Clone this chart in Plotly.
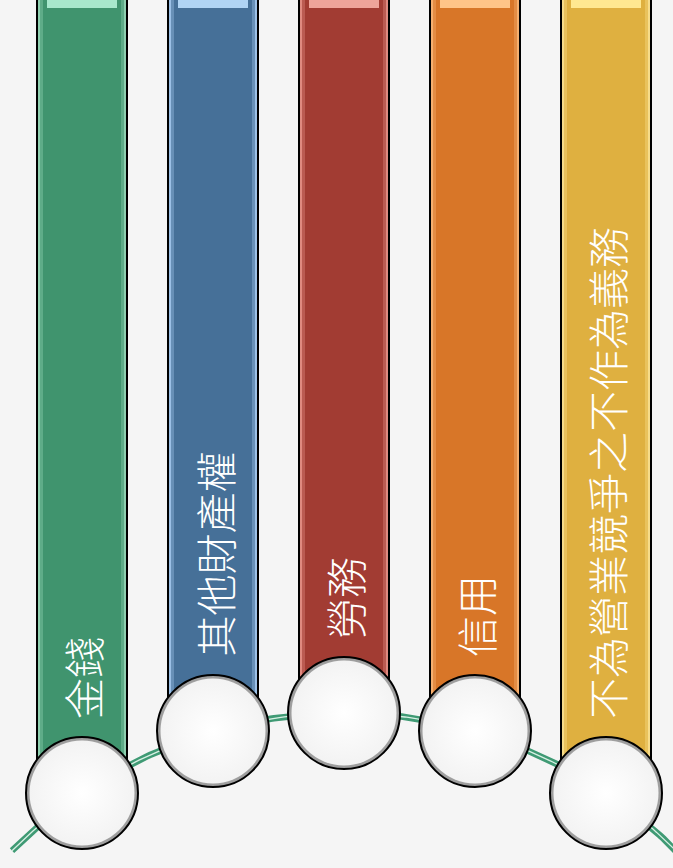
import numpy as np
import plotly.graph_objects as go

# ---- data ----
categories = ["金錢", "其他財產權", "勞務", "信用", "不為營業競爭之不作為義務"]
levels = [75, 137, 155, 137, 75]          # height of each step (circle centre)
bar_colors = ["#40946e", "#467098", "#a23c33", "#d87628", "#dfb040"]
tint_colors = ["#8fd0b0", "#9cc0e6", "#e08a80", "#f5b070", "#f7dc8a"]
top_colors = ["#a8e8cc", "#b0d4f4", "#eea49a", "#ffc488", "#ffe890"]

W, H = 673, 868
PITCH = 131.0
X0 = 82.0 / PITCH
BAR_TOP = 880
xs = list(range(len(categories)))

fig = go.Figure()

# bars: outer glow layer with outline, then main colour
fig.add_trace(go.Bar(x=xs, y=[BAR_TOP - l for l in levels], base=levels, width=0.68,
                     marker=dict(color=tint_colors, line=dict(color="black", width=2)),
                     hoverinfo="skip", showlegend=False))
fig.add_trace(go.Bar(x=xs, y=[BAR_TOP - l for l in levels], base=levels, width=0.64,
                     marker=dict(color=bar_colors, opacity=0.6, line=dict(width=0)),
                     hoverinfo="skip", showlegend=False))
fig.add_trace(go.Bar(x=xs, y=[BAR_TOP - l for l in levels], base=levels, width=0.60,
                     marker=dict(color=bar_colors, line=dict(width=0)),
                     hoverinfo="skip", showlegend=False))
# top highlight
fig.add_trace(go.Bar(x=xs, y=[12] * len(xs), base=[H - 8] * len(xs), width=0.54,
                     marker=dict(color=top_colors, line=dict(width=0)),
                     hoverinfo="skip", showlegend=False))

# arc through the step centres (circle fitted to first, middle, last points)
px = np.array(xs, dtype=float) * PITCH
py = np.array(levels, dtype=float)
(x1, y1), (x2, y2), (x3, y3) = (px[0], py[0]), (px[2], py[2]), (px[4], py[4])
A = np.array([[2 * (x2 - x1), 2 * (y2 - y1)], [2 * (x3 - x1), 2 * (y3 - y1)]])
b = np.array([x2**2 - x1**2 + y2**2 - y1**2, x3**2 - x1**2 + y3**2 - y1**2])
cx, cy = np.linalg.solve(A, b)
R = np.hypot(x1 - cx, y1 - cy)
ax_px = np.linspace(-X0 * PITCH + 12, (len(xs) - 1) * PITCH + 92, 200)
ay = cy + np.sqrt(np.maximum(R**2 - (ax_px - cx) ** 2, 0))
fig.add_trace(go.Scatter(x=ax_px / PITCH, y=ay, mode="lines",
                         line=dict(color="#3f9a74", width=6.5), hoverinfo="skip", showlegend=False))
fig.add_trace(go.Scatter(x=ax_px / PITCH, y=ay, mode="lines",
                         line=dict(color="#d8f0e4", width=1.3), hoverinfo="skip", showlegend=False))

# circles
fig.add_trace(go.Scatter(x=xs, y=levels, mode="markers",
                         marker=dict(size=112, color="#9a9a9a",
                                     gradient=dict(type="radial", color="white"),
                                     line=dict(color="black", width=2)),
                         hoverinfo="skip", showlegend=False))
fig.add_trace(go.Scatter(x=xs, y=levels, mode="markers",
                         marker=dict(size=105, color="#f3f3f3",
                                     gradient=dict(type="radial", color="white"),
                                     line=dict(width=0)),
                         hoverinfo="skip", showlegend=False))

# labels
for i, (c, l) in enumerate(zip(categories, levels)):
    fig.add_annotation(x=i, y=l + 72, text=c, textangle=-90, showarrow=False,
                       xanchor="center", yanchor="bottom",
                       font=dict(family="Noto Sans CJK TC", size=41, color="white", weight=300))

fig.update_layout(
    width=W, height=H, margin=dict(l=0, r=0, t=0, b=0),
    paper_bgcolor="#f5f5f5", plot_bgcolor="#f5f5f5",
    barmode="overlay", bargap=0,
    xaxis=dict(range=[-X0, (W / PITCH) - X0], visible=False, fixedrange=True),
    yaxis=dict(range=[0, H], visible=False, fixedrange=True),
)

fig.write_html("out.html")
